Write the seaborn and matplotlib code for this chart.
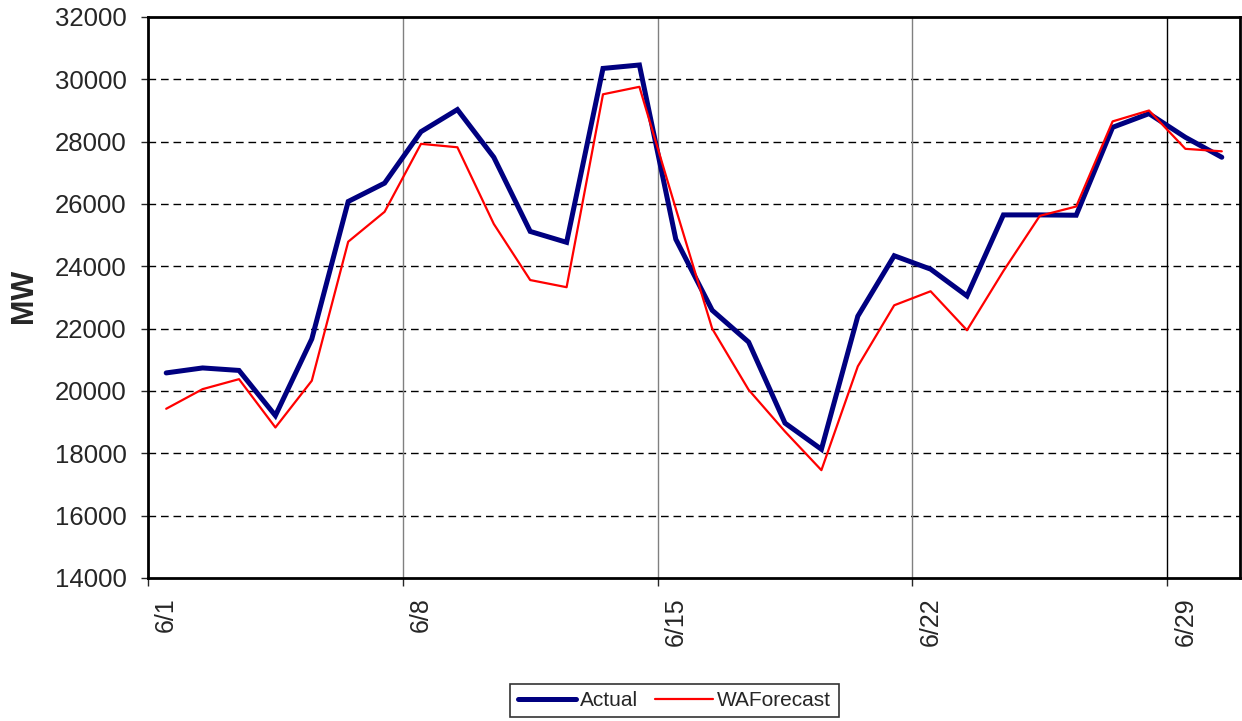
# Actual vs WA forecast load, June (daily peaks)
import pandas as pd
import matplotlib
matplotlib.use("Agg")
import matplotlib.pyplot as plt
import seaborn as sns

# data
days = pd.date_range("2006-06-01 12:00", periods=30, freq="D")
actual = [20580, 20740, 20660, 19210, 21670, 26080, 26670, 28320, 29030, 27500,
          25120, 24770, 30350, 30460, 24870, 22590, 21570, 18970, 18130, 22400,
          24340, 23910, 23050, 25650, 25650, 25640, 28460, 28900, 28140, 27500]
wa_forecast = [19430, 20060, 20380, 18830, 20330, 24790, 25750, 27930, 27820, 25360,
               23560, 23330, 29520, 29760, 25850, 22000, 20040, 18700, 17460, 20790,
               22750, 23200, 21950, 23850, 25620, 25920, 28650, 29000, 27770, 27690]
label_days = [1, 8, 15, 22, 29]
y_ticks = list(range(14000, 32001, 2000))

df = pd.DataFrame({"date": days, "Actual": actual, "WAForecast": wa_forecast})

sns.set_style("white")
plt.rcParams["font.family"] = ["Liberation Sans", "DejaVu Sans"]

fig = plt.figure(figsize=(12.42, 7.21), dpi=100)
ax = fig.add_axes([148 / 1242, 1 - 578 / 721, (1240 - 148) / 1242, (578 - 17) / 721])

sns.lineplot(data=df, x="date", y="Actual", ax=ax, color="#000080", linewidth=3.6,
             label="Actual", solid_joinstyle="miter")
sns.lineplot(data=df, x="date", y="WAForecast", ax=ax, color="#FF0000", linewidth=1.6,
             label="WAForecast")

ax.set_ylim(14000, 32000)
ax.set_yticks(y_ticks)
ax.set_xlim(pd.Timestamp("2006-06-01"), pd.Timestamp("2006-07-01"))

# horizontal dashed gridlines
for y in y_ticks[1:-1]:
    ax.axhline(y, color="black", linewidth=1.0, dashes=(5.5, 3.5), zorder=0)

# vertical gridlines at week boundaries, labels at the day centres
major = [pd.Timestamp(2006, 6, d) for d in label_days]
ax.set_xticks(major)
ax.set_xticklabels([])
for d in major[1:-1]:
    ax.axvline(d, color="#808080", linewidth=1.0, zorder=0)
ax.axvline(major[-1], color="black", linewidth=1.0, zorder=0)
minor = [pd.Timestamp(2006, 6, d, 12) for d in label_days]
ax.set_xticks(minor, minor=True)
ax.set_xticklabels([f"6/{d}" for d in label_days], minor=True, rotation=90,
                   fontsize=18, va="top")
ax.tick_params(axis="x", which="minor", length=0, pad=14)
ax.tick_params(axis="x", which="major", length=6, width=1, direction="out", bottom=True)
ax.tick_params(axis="y", length=5, width=1, direction="out", left=True, labelsize=18.5, pad=10.5)
ax.yaxis.set_major_formatter(matplotlib.ticker.FuncFormatter(lambda v, p: f"{int(v)}"))

for s in ax.spines.values():
    s.set_color("black")
    s.set_linewidth(2)

ax.set_xlabel("")
ax.set_ylabel("")
fig.text(23.5 / 1242, 1 - 296 / 721, "MW", rotation=90, fontsize=22, fontweight="bold",
         ha="center", va="center")

ax.get_legend().remove()
handles, labels = ax.get_legend_handles_labels()
leg = fig.legend(handles, labels, loc="center", bbox_to_anchor=(674.5 / 1242, 1 - 700.5 / 721),
                 ncol=2, fontsize=15, frameon=True, fancybox=False, handlelength=2.8,
                 columnspacing=0.8, handletextpad=0.2, borderpad=0.35, borderaxespad=0)
leg.get_frame().set_edgecolor("black")
leg.get_frame().set_linewidth(1.2)

fig.savefig("out.png", dpi=100)
